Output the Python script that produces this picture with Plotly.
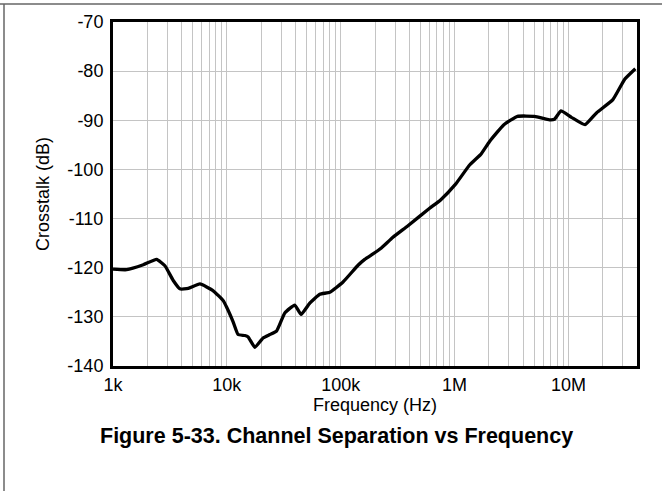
import math
import plotly.graph_objects as go

# Data (frequency in Hz, crosstalk in dB)
freq_hz = [1000, 1318, 1845, 2416, 2857, 3382, 3870, 4580, 5800, 7590, 9290, 9940,
           11350, 12560, 14380, 15380, 17620, 20800, 23830, 27290, 32280, 39470,
           44870, 53480, 65460, 80100, 104800, 141900, 162500, 192000, 224300,
           287600, 387300, 603500, 753700, 1.02e6, 1.355e6, 1.69e6, 2.03e6, 2.71e6,
           3.57e6, 5.04e6, 6.81e6, 7.53e6, 8.59e6, 1.062e7, 1.396e7, 1.762e7,
           2.456e7, 3.13e7, 3.87e7]
crosstalk_db = [-120.3, -120.4, -119.4, -118.3, -119.6, -122.6, -124.3, -124.2,
                -123.3, -124.7, -126.7, -128.0, -131.0, -133.6, -133.8, -134.1,
                -136.2, -134.3, -133.6, -132.9, -129.2, -127.6, -129.5, -127.2,
                -125.4, -125.0, -122.9, -119.5, -118.3, -117.2, -116.1, -113.8,
                -111.5, -107.9, -106.2, -103.0, -99.1, -97.0, -94.3, -90.9, -89.2,
                -89.2, -89.9, -89.8, -88.1, -89.4, -90.9, -88.5, -85.8, -81.6, -79.5]

x_tick_vals = [1e3, 1e4, 1e5, 1e6, 1e7]
x_tick_text = ["1k", "10k", "100k", "1M", "10M"]
y_tick_vals = [-140, -130, -120, -110, -100, -90, -80, -70]
y_tick_text = ["-140", "-130", "-120", "-110", "-100", "-90", "-80", "-70"]
x_min, x_max = 1e3, 4e7
y_min, y_max = -140, -70

minor_vals = [m * 10 ** e for e in range(3, 8) for m in range(2, 10) if m * 10 ** e <= x_max]

FONT = "Liberation Sans, Arial, sans-serif"
GRID = "#c4c4c4"
CLEAR = "rgba(0,0,0,0)"

fig = go.Figure()
fig.add_trace(go.Scatter(x=freq_hz, y=crosstalk_db, mode="lines",
                         line=dict(color="black", width=3.3, shape="spline", smoothing=0.4),
                         showlegend=False, hoverinfo="skip"))

fig.update_xaxes(type="log", range=[math.log10(x_min), math.log10(x_max)],
                 tickvals=x_tick_vals, ticktext=x_tick_text,
                 showgrid=True, gridcolor=GRID, gridwidth=1,
                 minor=dict(tickvals=minor_vals, showgrid=True, gridcolor=GRID, gridwidth=1, ticks=""),
                 showline=True, linecolor="black", linewidth=3, mirror=True,
                 ticks="", tickfont=dict(family=FONT, size=18, color="black"),
                 title=dict(text="Frequency (Hz)", font=dict(family=FONT, size=18, color="black"),
                            standoff=2),
                 zeroline=False)
fig.update_yaxes(range=[y_min, y_max], tickvals=y_tick_vals, ticktext=y_tick_text,
                 showgrid=True, gridcolor=GRID, gridwidth=1,
                 showline=True, linecolor="black", linewidth=3, mirror=True,
                 ticks="outside", ticklen=3, tickcolor=CLEAR,
                 tickfont=dict(family=FONT, size=18, color="black"),
                 title=dict(text="Crosstalk (dB)", font=dict(family=FONT, size=18, color="black"),
                            standoff=14),
                 zeroline=False)

L, R, T, B = 113, 25, 22, 125
W, H = 662, 491
pw, ph = W - L - R, H - T - B

def px_x(p):
    return (p - L) / pw

def px_y(p):
    return (H - B - p) / ph

fig.add_shape(type="line", xref="paper", yref="paper",
              x0=px_x(0), x1=px_x(W), y0=px_y(4), y1=px_y(4),
              line=dict(color="#666666", width=1.5))
fig.add_shape(type="line", xref="paper", yref="paper",
              x0=px_x(4), x1=px_x(4), y0=px_y(4), y1=px_y(H),
              line=dict(color="#666666", width=1.5))

fig.add_annotation(text="<b>Figure 5-33. Channel Separation vs Frequency</b>",
                   xref="paper", yref="paper", x=px_x(336), y=px_y(436),
                   xanchor="center", yanchor="middle", showarrow=False,
                   font=dict(family=FONT, size=21.5, color="black"))

fig.update_layout(width=W, height=H, margin=dict(l=L, r=R, t=T, b=B, autoexpand=False),
                  paper_bgcolor="white", plot_bgcolor="white")

fig.write_html("out.html", config={"displayModeBar": False},
               post_script="document.body.style.margin='0';")
